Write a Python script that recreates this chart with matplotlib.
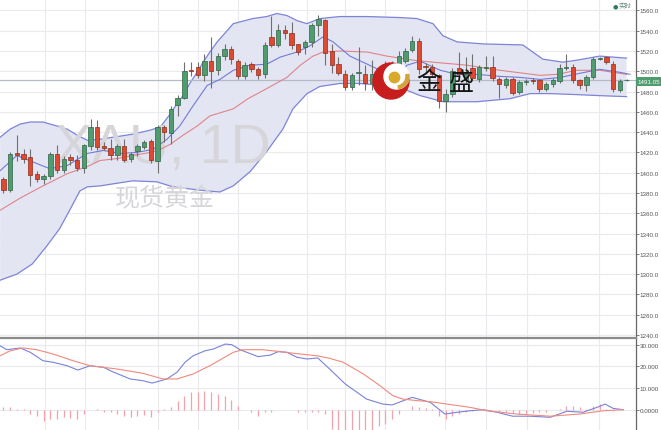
import numpy as np
import matplotlib.pyplot as plt
from matplotlib.patches import Circle, Wedge
from matplotlib.ticker import FixedLocator, FixedFormatter

# ---- daily candles (XAU, 1D) ----
opens = [1394, 1383, 1419, 1418, 1415, 1399, 1394, 1397, 1418, 1403,
         1415, 1413, 1405, 1426, 1445, 1426, 1424, 1417, 1426, 1414,
         1421, 1425, 1431, 1412, 1445, 1439, 1467, 1474, 1501, 1504,
         1496, 1510, 1501, 1515, 1522, 1510, 1495, 1507, 1502, 1497,
         1534, 1526, 1541, 1538, 1527, 1524, 1529, 1546, 1551, 1520,
         1507, 1497, 1485, 1498, 1497, 1488, 1494, 1496, 1497, 1506,
         1510, 1521, 1530, 1505, 1504, 1496, 1471, 1478, 1503, 1491,
         1503, 1492, 1503, 1504, 1492, 1486, 1492, 1480, 1489, 1491,
         1491, 1483, 1487, 1490, 1503, 1504, 1491, 1486, 1494, 1512,
         1514, 1507, 1482, 1491]
highs = [1396, 1420, 1437, 1423, 1423, 1402, 1399, 1420, 1427, 1416,
         1418, 1417, 1428, 1453, 1452, 1430, 1433, 1428, 1433, 1420,
         1428, 1432, 1433, 1447, 1447, 1466, 1477, 1509, 1509, 1509,
         1517, 1534, 1518, 1527, 1525, 1512, 1509, 1509, 1504, 1529,
         1555, 1547, 1546, 1549, 1527, 1531, 1548, 1556, 1552, 1527,
         1514, 1501, 1498, 1524, 1506, 1511, 1503, 1510, 1510, 1520,
         1523, 1535, 1533, 1508, 1507, 1497, 1483, 1503, 1519, 1514,
         1517, 1506, 1515, 1515, 1494, 1494, 1494, 1491, 1492, 1493,
         1492, 1489, 1493, 1507, 1517, 1507, 1492, 1496, 1514, 1514,
         1515, 1510, 1492, 1492]
lows = [1380, 1381, 1412, 1410, 1387, 1391, 1389, 1394, 1400, 1400,
        1408, 1402, 1400, 1422, 1422, 1422, 1413, 1413, 1411, 1411,
        1416, 1423, 1410, 1400, 1430, 1428, 1456, 1473, 1495, 1493,
        1490, 1484, 1496, 1511, 1507, 1492, 1492, 1499, 1492, 1493,
        1524, 1524, 1532, 1522, 1516, 1517, 1524, 1535, 1506, 1498,
        1496, 1482, 1482, 1486, 1482, 1482, 1490, 1492, 1494, 1503,
        1508, 1519, 1497, 1498, 1494, 1464, 1460, 1475, 1494, 1488,
        1490, 1489, 1500, 1490, 1474, 1484, 1477, 1478, 1486, 1487,
        1480, 1481, 1485, 1488, 1501, 1488, 1483, 1481, 1492, 1511,
        1507, 1480, 1480, 1490]
closes = [1383, 1418, 1417, 1414, 1398, 1394, 1397, 1418, 1403, 1414,
          1413, 1405, 1427, 1445, 1425, 1424, 1417, 1426, 1413, 1418,
          1426, 1430, 1413, 1445, 1440, 1463, 1474, 1500, 1500, 1496,
          1510, 1500, 1515, 1522, 1512, 1495, 1506, 1502, 1496, 1526,
          1526, 1541, 1538, 1526, 1519, 1529, 1546, 1552, 1518, 1506,
          1498, 1485, 1496, 1499, 1488, 1497, 1500, 1503, 1505, 1515,
          1520, 1530, 1502, 1504, 1497, 1471, 1478, 1500, 1497, 1497,
          1493, 1504, 1504, 1493, 1487, 1492, 1479, 1489, 1490, 1490,
          1483, 1487, 1491, 1503, 1504, 1491, 1486, 1494, 1512, 1513,
          1509, 1483, 1490, 1491]

# ---- bollinger bands / moving averages, read at sample points (bar index) ----
upper_x = [-0.5, 1.0, 2.5, 4.0, 5.9, 8.0, 9.5, 11.0, 12.5, 14.4, 19.3, 21.9,
           23.4, 24.9, 25.9, 26.8, 27.8, 28.9, 29.8, 30.8, 31.9, 34.3, 37.2,
           39.3, 40.8, 42.3, 43.8, 45.3, 47.2, 50.2, 54.3, 59.2, 61.7, 64.1,
           65.6, 67.7, 71.6, 77.5, 80.5, 83.5, 85.6, 89.0, 91.0, 93.0]
upper_v = [1435, 1443, 1448, 1450, 1450, 1446, 1443, 1437, 1432, 1433, 1438,
           1442, 1445, 1458, 1468, 1476, 1488, 1499, 1509, 1519, 1529, 1547,
           1552, 1554, 1557, 1555, 1550, 1547, 1552, 1554, 1554, 1553, 1552,
           1547, 1535, 1529, 1527, 1526, 1512, 1509, 1511, 1515, 1514, 1513]
lower_x = [-0.5, 2.0, 4.3, 6.5, 8.4, 10.2, 11.4, 12.5, 14.4, 19.3, 22.9, 25.3,
           30.4, 32.3, 34.3, 36.8, 39.3, 41.7, 43.2, 45.3, 47.2, 50.2, 53.2,
           56.6, 59.2, 62.2, 65.6, 70.7, 75.6, 78.6, 81.6, 85.6, 89.0, 93.0]
lower_v = [1294, 1300, 1310, 1328, 1345, 1367, 1382, 1386, 1387, 1392, 1391,
           1386, 1382, 1381, 1387, 1401, 1421, 1443, 1463, 1478, 1485, 1488,
           1488, 1486, 1484, 1476, 1470, 1470, 1473, 1478, 1478, 1477, 1476,
           1475]
mid_x = [-0.5, 2.5, 5.9, 9.5, 12.5, 14.4, 17.0, 19.3, 21.9, 23.4, 24.9, 26.8,
         28.9, 30.8, 34.3, 36.5, 39.3, 42.3, 44.3, 46.2, 47.7, 50.2, 54.3,
         57.2, 61.1, 64.1, 69.2, 74.1, 80.1, 82.6, 85.6, 89.0, 93.0]
mid_v = [1363, 1375, 1387, 1399, 1406, 1412, 1414, 1417, 1420, 1423, 1428,
         1437, 1446, 1456, 1463, 1473, 1483, 1494, 1506, 1515, 1519, 1520,
         1519, 1515, 1511, 1509, 1506, 1501, 1496, 1497, 1501, 1501, 1497]
ma5_x = [-0.5, 2.0, 5.0, 6.9, 9.5, 12.5, 14.9, 17.4, 19.9, 22.3, 24.4, 26.3,
         28.3, 30.4, 32.3, 34.3, 36.8, 39.3, 41.3, 43.8, 45.7, 47.7, 49.2,
         51.7, 54.3, 56.2, 58.1, 59.6, 60.2, 62.2, 65.2, 67.7, 70.7, 74.1,
         77.1, 80.1, 83.1, 86.0, 89.0, 92.0, 93.5]
ma5_v = [1402, 1417, 1409, 1404, 1407, 1419, 1422, 1419, 1420, 1423, 1433,
         1446, 1466, 1486, 1492, 1501, 1506, 1507, 1514, 1519, 1525, 1534,
         1529, 1515, 1507, 1501, 1496, 1501, 1506, 1510, 1501, 1497, 1497,
         1495, 1494, 1492, 1494, 1498, 1502, 1499, 1497]

# ---- MACD ----
dif_x = [-0.5, 0.5, 2.5, 4.0, 5.9, 7.4, 9.5, 11.1, 12.9, 14.9, 16.3, 18.9,
         20.8, 22.2, 24.4, 25.9, 27.1, 28.3, 30.1, 31.3, 33.1, 34.1, 35.3,
         38.0, 39.8, 41.0, 42.3, 43.8, 45.3, 46.9, 48.4, 51.0, 54.2, 56.6,
         58.0, 61.0, 63.7, 65.9, 67.7, 69.6, 71.6, 73.7, 76.0, 78.6, 81.6,
         84.1, 86.5, 88.6, 89.8, 91.0, 92.5]
dif_v = [29.5, 27.7, 28.5, 26.5, 22.6, 21.9, 20.3, 18.3, 20.3, 19.6, 17.5,
         14.2, 13.4, 12.3, 14.2, 17.3, 21.9, 24.9, 27.2, 28.0, 30.3, 30.0,
         27.7, 24.5, 25.2, 26.8, 26.5, 24.2, 23.4, 23.9, 19.6, 11.9, 4.9,
         2.6, 2.2, 5.7, 3.4, -2.0, -1.2, -0.5, 0.0, -1.2, -3.0, -3.0, -3.5,
         -0.7, -1.2, 1.1, 2.6, 0.6, 0.0]
dea_x = [-0.5, 1.0, 2.9, 5.0, 7.4, 10.4, 12.9, 16.9, 20.8, 23.8, 25.9, 28.3,
         30.8, 34.3, 35.7, 38.7, 41.3, 44.3, 46.8, 48.7, 50.7, 53.7, 56.2,
         58.1, 59.6, 61.7, 63.7, 66.2, 69.6, 72.2, 76.6, 81.6, 86.0, 89.5,
         92.5]
dea_v = [24.9, 27.2, 28.5, 27.7, 25.7, 22.6, 20.3, 18.8, 16.8, 14.2, 14.2,
         16.5, 20.3, 26.5, 27.7, 27.7, 26.8, 25.7, 24.9, 23.7, 21.9, 16.5,
         11.1, 6.5, 4.9, 4.2, 3.7, 2.6, 1.1, -0.5, -2.0, -3.0, -2.0, -0.5,
         0.0]
macd_hist = [1.2, 1.1, 0.3, 0.2, -2.0, -2.8, -5.1, -4.3, -4.3, -3.5,
             -4.0, -4.3, -2.0, -0.3, 0.2, -1.2, -1.2, -2.0, -2.8, -3.5,
             -2.8, -2.5, -3.5, -1.2, 0.3, 1.1, 4.2, 6.5, 8.0, 8.3,
             8.8, 8.0, 7.2, 6.2, 4.6, 1.6, 0.0, -1.2, -3.0, -1.2,
             -1.2, -0.2, -0.1, -0.2, -0.9, -1.2, -1.2, -1.2, -2.0, -9.0,
             -10.0, -10.5, -11.0, -11.0, -10.5, -9.5, -7.4, -6.6, -4.3, -2.0,
             0.0, 1.6, 1.1, 0.6, 0.3, -2.8, -4.3, -2.8, -2.0, -1.2,
             -0.5, -0.2, 0.0, -0.5, -0.9, -1.2, -1.5, -2.0, -2.0, -1.5,
             -1.2, -0.9, -0.2, 0.4, 1.6, 1.6, 1.1, 0.4, 1.8, 2.6,
             0.2, -0.5, -0.3, 0.0]

# date grid lines (bar index)
vgrid = [6.2, 12.2, 23.1, 29.0, 35.0, 45.3, 51.0, 56.9, 65.9, 72.0, 78.1, 88.9]
price_ticks = list(range(1240, 1561, 20))
macd_ticks = [0, 10, 20, 30]
macd_labels = ['0.0000', '10.000', '20.000', '30.000']
last_price = 1491.05

W, H = 661, 431
fig = plt.figure(figsize=(W / 100, H / 100), dpi=100)
fig.patch.set_facecolor('white')
ax = fig.add_axes([0, 1 - 339 / H, 635.7 / W, 339 / H])
ax2 = fig.add_axes([0, 0, 635.7 / W, 92 / H])

days = np.arange(len(closes))
o = np.array(opens); c = np.array(closes)
up = c >= o
green, red = '#4f9c6f', '#dd4a31'
green_e, red_e = '#2f6446', '#8e2d1c'
cjk = ['Noto Sans CJK SC', 'DejaVu Sans']

# bands
ax.fill(np.r_[upper_x, lower_x[::-1]], np.r_[upper_v, lower_v[::-1]],
        color='#e3e5f3', zorder=1, lw=0)
ax.plot(upper_x, upper_v, color='#7d84d8', lw=0.9, zorder=2)
ax.plot(lower_x, lower_v, color='#7d84d8', lw=0.9, zorder=2)

# watermark
ax.text(163 / 635.7, 1 - 149 / 339, 'XAU, 1D', transform=ax.transAxes,
        fontsize=40, family='Liberation Sans', color='#d6d6da',
        ha='center', va='center', zorder=2)
ax.text(165 / 635.7, 1 - 199 / 339, '现货黄金', transform=ax.transAxes,
        fontsize=18, family=cjk, color='#d6d6da',
        ha='center', va='center', zorder=2)

ax.plot(mid_x, mid_v, color='#e0848a', lw=0.8, zorder=3)
ax.plot(ma5_x, ma5_v, color='#727bd4', lw=0.8, zorder=3)
ax.axhline(last_price, color='#b4bac6', lw=0.9, zorder=2)

# candles
ax.vlines(days, lows, highs, color='#707070', lw=0.8, zorder=4)
body = np.maximum(np.abs(c - o), 0.6)
ax.bar(days, body, bottom=np.minimum(o, c), width=0.66,
       color=np.where(up, green, red), edgecolor=np.where(up, green_e, red_e),
       linewidth=0.5, zorder=5)

# MACD panel
ax2.vlines(days, 0, macd_hist, color='#f2a2aa', lw=0.9, zorder=2)
ax2.plot(dif_x, dif_v, color='#7a82d8', lw=0.8, zorder=3)
ax2.plot(dea_x, dea_v, color='#f08a7c', lw=0.8, zorder=3)

for a in (ax, ax2):
    a.set_xlim(-0.52, 94.36)
    a.xaxis.set_major_locator(FixedLocator(vgrid))
    a.tick_params(axis='x', length=0, labelbottom=False)
    a.yaxis.tick_right()
    a.tick_params(axis='y', direction='out', length=2, width=0.6, pad=1,
                  labelsize=4.5, labelcolor='#555555', color='#666666')
    a.grid(True, color='#e9e9ee', lw=0.8, zorder=0)
    a.set_axisbelow(True)
    for s in ('left', 'top', 'bottom'):
        a.spines[s].set_visible(False)
    a.spines['right'].set_color('#666666')
    a.spines['right'].set_linewidth(0.9)
    for t in a.get_yticklabels():
        t.set_family('Liberation Sans')

ax.set_ylim(1237.0, 1571.3)
ax.set_yticks(price_ticks)
ax.set_yticklabels([f'{v:.1f}' for v in price_ticks], family='Liberation Sans')

ax2.set_ylim(-9.37, 33.1)
ax2.yaxis.set_major_locator(FixedLocator(macd_ticks))
ax2.yaxis.set_major_formatter(FixedFormatter(macd_labels))
for t in ax2.get_yticklabels():
    t.set_family('Liberation Sans')
ax2.spines['top'].set_visible(True)
ax2.spines['top'].set_color('#8c8c8c')
ax2.spines['top'].set_linewidth(1.6)
ax2.text(1.006, -10, '-10.00', transform=ax2.get_yaxis_transform(),
         fontsize=4.5, family='Liberation Sans', color='#555555',
         va='center', ha='left', clip_on=False)

# last price tag and realtime marker
fig.text(637.5 / W, 1 - 82.5 / H, f'{last_price:.2f}', fontsize=4.5,
         family='Liberation Sans', color='white', ha='left', va='center',
         bbox=dict(boxstyle='square,pad=0.25', fc='#4f9c6f', ec='none'))
fig.text(615 / W, 1 - 6.5 / H, '●', fontsize=4.5, color='#2e7d5b',
         ha='center', va='center')
fig.text(619 / W, 1 - 6.5 / H, '实时', fontsize=4.6, color='#6a8f80',
         family=cjk, ha='left', va='center')

# logo
lg = fig.add_axes([368 / W, 1 - 104 / H, 44 / W, 44 / H])
lg.set_xlim(368, 412); lg.set_ylim(104, 60); lg.axis('off')
lg.add_patch(Circle((391, 82), 18, color='#c81d1d'))
lg.add_patch(Circle((396.5, 77.5), 12.5, color='white'))
lg.add_patch(Wedge((396.5, 77.5), 12.5, -10, 80, width=3, color='#d2a43a'))
lg.add_patch(Circle((394.5, 78.5), 5.2, color='#d9a92a'))
fig.text(428.5 / W, 1 - 83 / H, '金', fontsize=18, color='#151515',
         family=cjk, ha='center', va='center')
fig.text(461.5 / W, 1 - 83 / H, '盛', fontsize=18, color='#151515',
         family=cjk, ha='center', va='center')

fig.savefig('out.png', dpi=100)
